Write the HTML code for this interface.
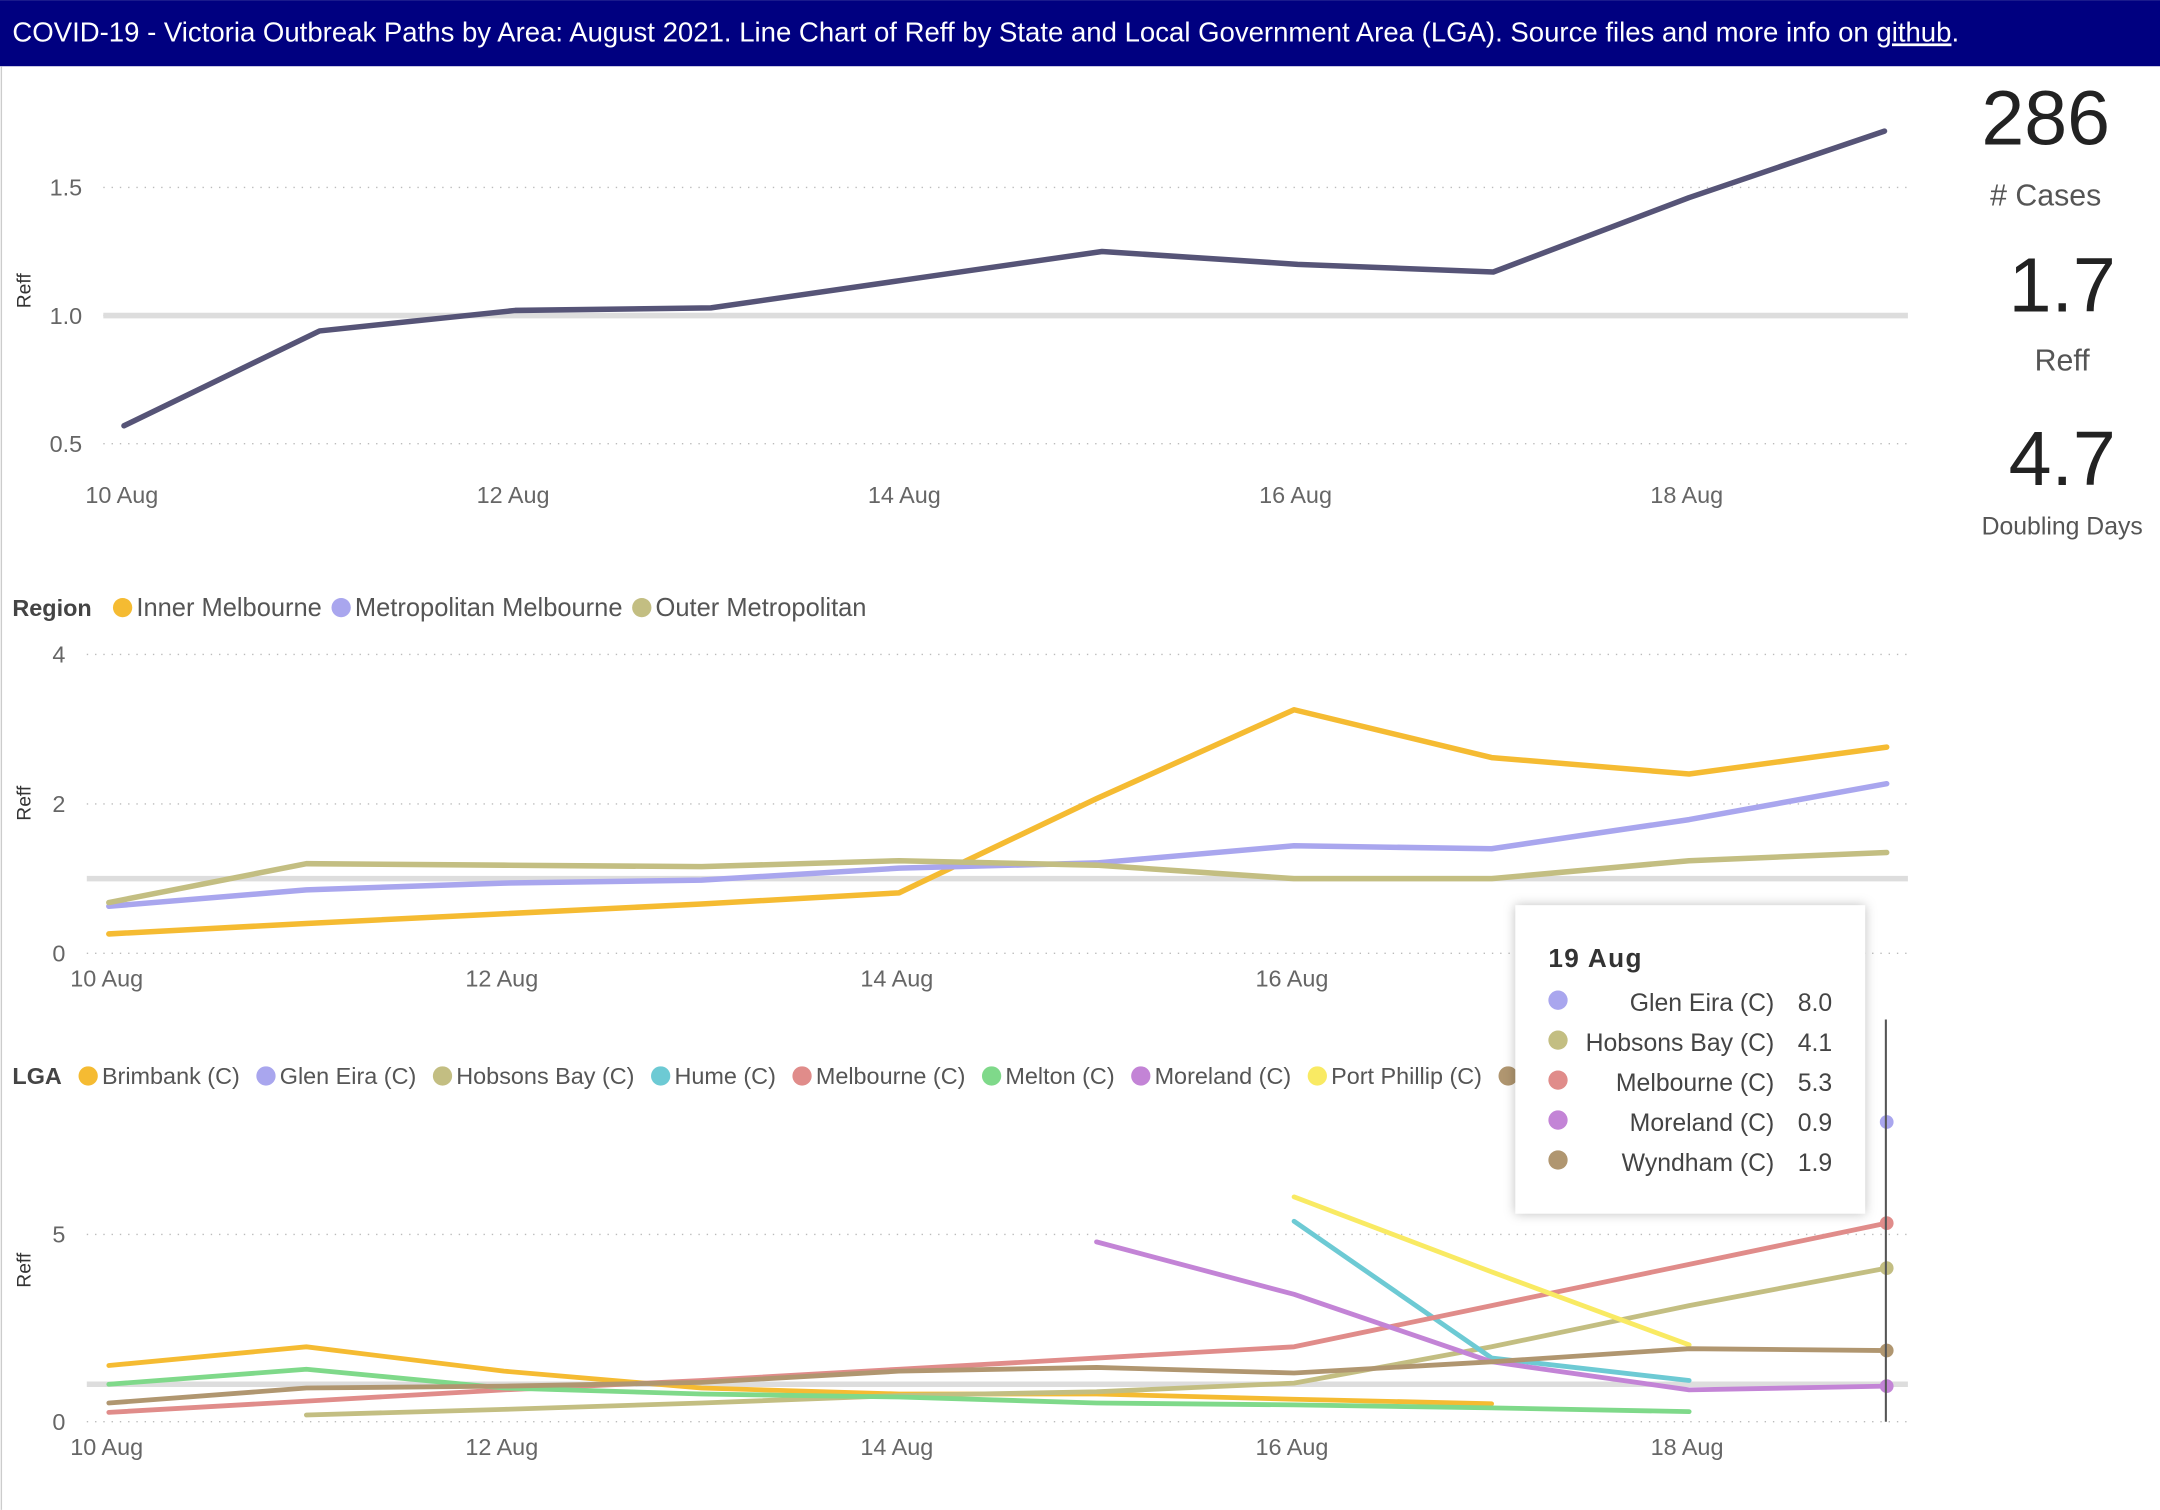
<!DOCTYPE html>
<html><head><meta charset="utf-8"><style>
html,body{margin:0;padding:0;background:#fff;}
svg{display:block;font-family:"Liberation Sans",sans-serif;}
.tick{fill:#666;font-size:17px;}
.grid{stroke:#bbb;stroke-dasharray:1 5;stroke-width:1;}
.leg{fill:#555;font-size:17px;}
</style></head><body>
<svg id="root" width="2160" height="1510" viewBox="0 0 1568 1096">
<rect x="0" y="0" width="1568" height="48" fill="#000080"/>
<text x="9" y="30" fill="#fff" font-size="20">COVID-19  - Victoria Outbreak Paths by Area: August 2021.  Line Chart of Reff by State and Local Government Area (LGA). Source files and more info on <tspan text-decoration="underline">github</tspan>.</text>
<line x1="1" y1="48" x2="1" y2="1096" stroke="#ccc"/>
<g>
<text x="1485" y="105" text-anchor="middle" font-size="56" fill="#222">286</text>
<text x="1485" y="149" text-anchor="middle" font-size="22" fill="#555"># Cases</text>
<text x="1497" y="226" text-anchor="middle" font-size="56" fill="#222">1.7</text>
<text x="1497" y="269" text-anchor="middle" font-size="22" fill="#555">Reff</text>
<text x="1497" y="352" text-anchor="middle" font-size="56" fill="#222">4.7</text>
<text x="1497" y="388" text-anchor="middle" font-size="18" fill="#555">Doubling Days</text>
</g>
<g id="c1"></g>
<g id="c2"></g>
<g id="c3"></g>
<g>
<line x1="1369" y1="740" x2="1369" y2="1032" stroke="#555" stroke-width="1.5"/>
<rect x="1100" y="657" width="254" height="224" fill="#fff" style="filter:drop-shadow(0 0 4px rgba(0,0,0,0.25))"/>
<text x="1124" y="702" font-size="19" font-weight="bold" fill="#333" letter-spacing="1">19 Aug</text>
<g id="tip"></g>
</g>
<script>
const NS="http://www.w3.org/2000/svg";
const days=["10 Aug","11 Aug","12 Aug","13 Aug","14 Aug","15 Aug","16 Aug","17 Aug","18 Aug","19 Aug"];
const xTickIdx=[0,2,4,6,8];
const stateReff=[0.57,0.94,1.02,1.03,1.14,1.25,1.2,1.17,1.46,1.72];
const c1Ticks=[0.5,1.0,1.5];
const regionNames=["Inner Melbourne","Metropolitan Melbourne","Outer Metropolitan"];
const regionColors=["#F5BB32","#A9A6EE","#C3BE82"];
const innerMelb=[0.26,0.4,0.53,0.66,0.81,2.07,3.26,2.62,2.4,2.76];
const metroMelb=[0.63,0.85,0.94,0.98,1.14,1.21,1.44,1.4,1.79,2.27];
const outerMetro=[0.68,1.2,1.18,1.16,1.24,1.18,1.0,1.0,1.24,1.35];
const c2Ticks=[0,2,4];
const lgaNames=["Brimbank (C)","Glen Eira (C)","Hobsons Bay (C)","Hume (C)","Melbourne (C)","Melton (C)","Moreland (C)","Port Phillip (C)","Wyndham (C)"];
const lgaColors=["#F5BB32","#A9A6EE","#C3BE82","#6DCAD4","#E08C8A","#7FD98A","#C384D6","#F9EA63","#B09670"];
const brimbank=[1.5,2.0,1.35,0.9,0.74,0.74,0.6,0.48,null,null];
const glenEira=[null,null,null,null,null,null,null,null,null,8.0];
const hobsonsBay=[null,0.18,0.33,0.5,0.7,0.8,1.03,2.0,3.1,4.1];
const hume=[null,null,null,null,null,null,5.35,1.7,1.1,null];
const melbourne=[0.25,0.55,0.85,1.1,1.4,1.7,2.0,3.1,4.2,5.3];
const melton=[1.0,1.4,0.9,0.74,0.66,0.5,0.45,0.37,0.27,null];
const moreland=[null,null,null,null,null,4.8,3.4,1.6,0.85,0.95];
const portPhillip=[null,null,null,null,null,null,6.0,4.0,2.05,null];
const wyndham=[0.5,0.9,0.95,1.05,1.35,1.45,1.3,1.6,1.95,1.9];
const lgaSeries=[brimbank,glenEira,hobsonsBay,hume,melbourne,melton,moreland,portPhillip,wyndham];
const c3Ticks=[0,5];
const tipNames=["Glen Eira (C)","Hobsons Bay (C)","Melbourne (C)","Moreland (C)","Wyndham (C)"];
const tipValues=["8.0","4.1","5.3","0.9","1.9"];
const tipColors=["#A9A6EE","#C3BE82","#E08C8A","#C384D6","#B09670"];

function el(parent,tag,attrs,txt){const e=document.createElementNS(NS,tag);for(const k in attrs)e.setAttribute(k,attrs[k]);if(txt!==undefined)e.textContent=txt;parent.appendChild(e);return e;}
function axes(g,cfg){
  const xs=i=>cfg.x0+i*cfg.dx, ys=v=>cfg.y0-(v-cfg.v0)*cfg.k;
  cfg.ticks.forEach(t=>{el(g,'line',{x1:cfg.gx0,x2:1385,y1:ys(t),y2:ys(t),class:'grid'});
    const tl=el(g,'text',{x:cfg.tx,y:ys(t)+6,class:'tick'},cfg.fmt(t));
    
    });
  el(g,'line',{x1:cfg.gx0,x2:1385,y1:ys(1),y2:ys(1),stroke:'#ddd','stroke-width':4});
  xTickIdx.forEach(i=>{const t=el(g,'text',{x:xs(i)-28,y:cfg.xly,class:'tick'},days[i]);
    
    });
  const yt=el(g,'text',{x:0,y:0,transform:`translate(22,${cfg.ylab}) rotate(-90)`,'font-size':14,fill:'#333','text-anchor':'middle'},'Reff');
  
  
  return {xs,ys};
}
function line(g,vals,color,sc,w,name){
  let d='';let pen=false;
  vals.forEach((v,i)=>{if(v==null){pen=false;return;}d+=(pen?'L':'M')+sc.xs(i)+' '+sc.ys(v)+' ';pen=true;});
  const p=el(g,'path',{d:d,fill:'none',stroke:color,'stroke-width':w,'stroke-linejoin':'round','stroke-linecap':'round'});
  
  
  return p;
}
// chart 1
const g1=document.getElementById('c1');
const s1=axes(g1,{x0:90,dx:142,y0:229,v0:1,k:186,ticks:c1Ticks,gx0:75,tx:36,fmt:t=>t.toFixed(1),xly:365,ylab:211});
line(g1,stateReff,'#565477',s1,4,'state-reff-line');
// chart 2
const g2=document.getElementById('c2');
const s2=axes(g2,{x0:79,dx:143.4,y0:692,v0:0,k:54.25,ticks:c2Ticks,gx0:63,tx:38,fmt:t=>String(t),xly:716,ylab:583});
el(g2,'text',{x:9,y:447,'font-size':17,'font-weight':'bold',fill:'#444'},'Region');
let lx=82;
regionNames.forEach((n,i)=>{el(g2,'circle',{cx:lx+7,cy:441,r:7,fill:regionColors[i]});
  const t=el(g2,'text',{x:lx+17,y:447,class:'leg','font-size':18.5,style:'font-size:18.5px'},n);
  
  
  lx+=17+t.getComputedTextLength()+7;});
[innerMelb,metroMelb,outerMetro].forEach((s,i)=>line(g2,s,regionColors[i],s2,4,'region-line'));
// chart 3
const g3=document.getElementById('c3');
const s3=axes(g3,{x0:79,dx:143.4,y0:1032,v0:0,k:27.2,ticks:c3Ticks,gx0:63,tx:38,fmt:t=>String(t),xly:1056,ylab:922});
el(g3,'text',{x:9,y:787,'font-size':17,'font-weight':'bold',fill:'#444'},'LGA');
lx=57;
lgaNames.forEach((n,i)=>{if(lx>1095)return;el(g3,'circle',{cx:lx+7,cy:781,r:7,fill:lgaColors[i]});
  const t=el(g3,'text',{x:lx+17,y:787,class:'leg'},n);
  
  
  lx+=17+t.getComputedTextLength()+12;});
lgaSeries.forEach((s,i)=>line(g3,s,lgaColors[i],s3,3.5,'lga-line'));
lgaSeries.forEach((s,i)=>{if(s[9]!=null){const c=el(g3,'circle',{cx:s3.xs(9),cy:s3.ys(s[9]),r:5,fill:lgaColors[i]});
  
  }});
// tooltip
const tip=document.getElementById('tip');
tipNames.forEach((n,i)=>{const y=734+i*29;
  el(tip,'circle',{cx:1131,cy:y-8,r:7,fill:tipColors[i]});
  el(tip,'text',{x:1288,y:y,'text-anchor':'end','font-size':18,fill:'#444'},n);
  el(tip,'text',{x:1305,y:y,'font-size':18,fill:'#444'},tipValues[i]);});
</script>
</svg>
</body></html>
